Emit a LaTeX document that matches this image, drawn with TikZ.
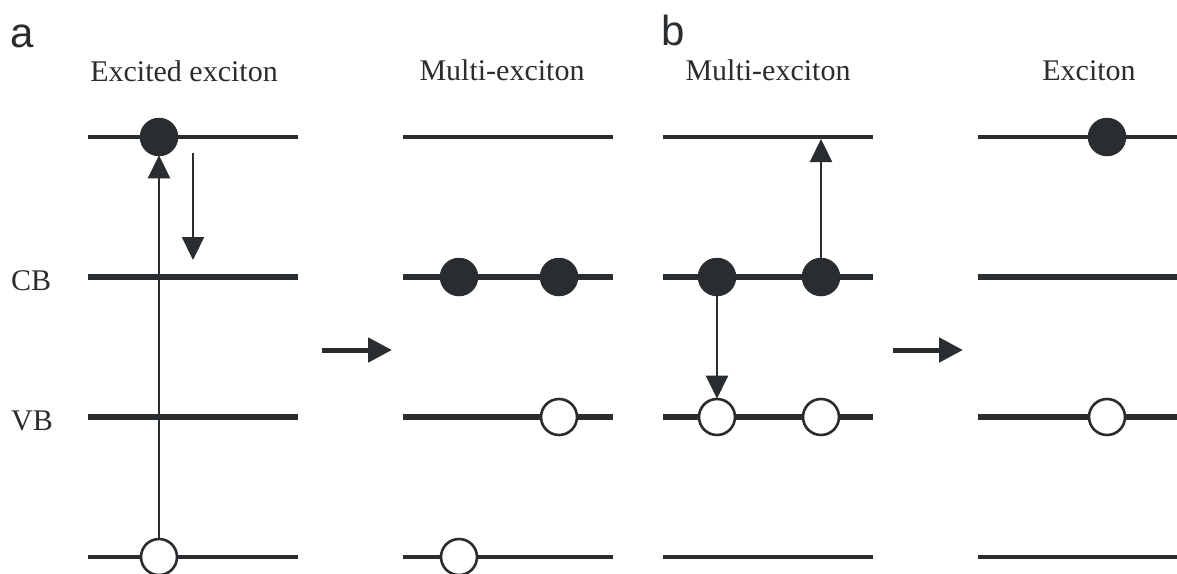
\documentclass[tikz,border=0pt]{standalone}
\usepackage{fontspec}
\setmainfont{Liberation Serif}
\newfontfamily\panelsans{Liberation Sans}
\usetikzlibrary{arrows.meta}
\definecolor{ink}{RGB}{42,45,48}
\tikzset{
  thinlevel/.style={draw=ink,line width=3.9pt},
  thicklevel/.style={draw=ink,line width=6pt},
  filledp/.style={circle,fill=ink,draw=ink,line width=1pt,minimum size=37.5pt,inner sep=0pt},
  openp/.style={circle,fill=white,draw=ink,line width=2.6pt,minimum size=36pt,inner sep=0pt},
  trans/.style={draw=ink,line width=2.3pt,-{Triangle[length=23pt,width=22pt]},shorten >=-1pt},
  bigarrow/.style={draw=ink,line width=5pt,-{Triangle[length=24pt,width=24pt]}},
  title/.style={font=\fontsize{30}{32}\selectfont,text=ink,anchor=base,inner sep=0pt},
  panlabel/.style={font=\panelsans\fontsize{42}{44}\selectfont,text=ink,anchor=base west,inner sep=0pt},
}
\begin{document}
\begin{tikzpicture}[x=1pt,y=-1pt]
\useasboundingbox (0,0) rectangle (1177,573);
\fill[white] (0,0) rectangle (1177,573);
% panel labels and titles
\node[panlabel] (la) at (10,47) {a};
\node[panlabel] (lb) at (661,45) {b};
\node[title] (t1) at (184,81) {Excited exciton};
\node[title] (t2) at (502,80) {Multi-exciton};
\node[title] (t3) at (768,80) {Multi-exciton};
\node[title] (t4) at (1089,80) {Exciton};
\node[title,anchor=base west] (cb) at (11,290) {CB};
\node[title,anchor=base west] (vb) at (11,430) {VB};
% energy levels
\foreach \xa/\xb in {88/298,403/613,663/873,978/1177}{
  \draw[thinlevel] (\xa,137) -- (\xb,137);
  \draw[thicklevel] (\xa,277) -- (\xb,277);
  \draw[thicklevel] (\xa,417) -- (\xb,417);
  \draw[thinlevel] (\xa,557) -- (\xb,557);
}
% panel 1
\node[filledp] (e1) at (159,137) {};
\node[openp] (h1) at (159,557) {};
\draw[trans] (h1) -- (e1);
\coordinate (r1s) at (193,153);
\coordinate (r1e) at (193,260);
\draw[trans,shorten >=0pt] (r1s) -- (r1e);
% panel 2
\node[filledp] (e2a) at (459,277) {};
\node[filledp] (e2b) at (559,277) {};
\node[openp] (h2a) at (559,417) {};
\node[openp] (h2b) at (459,557) {};
% panel 3
\node[filledp] (e3a) at (717,277) {};
\node[filledp] (e3b) at (821,277) {};
\node[openp] (h3a) at (717,417) {};
\node[openp] (h3b) at (821,417) {};
\coordinate (u3) at (821,139);
\draw[trans] (e3a) -- (h3a);
\draw[trans,shorten >=0pt] (e3b) -- (u3);
% panel 4
\node[filledp] (e4) at (1107,137) {};
\node[openp] (h4) at (1107,417) {};
% process arrows
\coordinate (a1s) at (322,350);
\coordinate (a1e) at (392,350);
\coordinate (a2s) at (893,350);
\coordinate (a2e) at (963,350);
\draw[bigarrow] (a1s) -- (a1e);
\draw[bigarrow] (a2s) -- (a2e);
\end{tikzpicture}
\end{document}
